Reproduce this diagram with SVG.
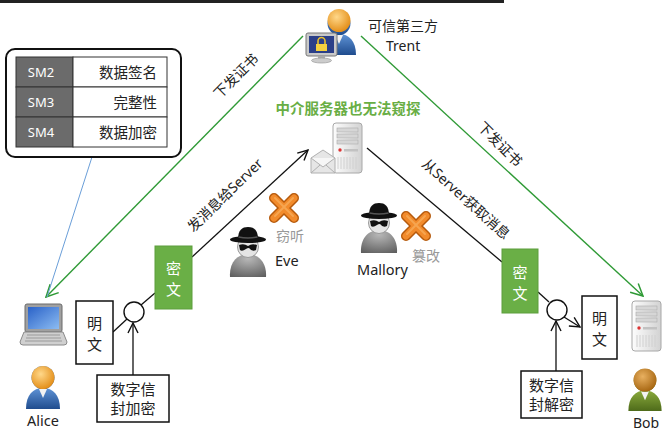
<svg xmlns="http://www.w3.org/2000/svg" width="667" height="433" viewBox="0 0 667 433">
<defs>
<style>
text{font-family:"Noto Sans","Noto Sans CJK SC",sans-serif;fill:#222}
.cn{font-family:"Noto Sans CJK SC","Noto Sans",sans-serif}
.lbl{font-size:14px}
.box{fill:#fff;stroke:#111;stroke-width:1.5}
.gbox{fill:#6aaf46;stroke:#5c9e3c;stroke-width:1}
.gtxt{fill:#fff;font-size:15px}
.ln{stroke:#111;stroke-width:1.3;fill:none}
.gl{stroke:#2f9a36;stroke-width:1.4;fill:none}
.smk{fill:#6b6b6b;stroke:#333;stroke-width:1}
.smv{fill:#fff;stroke:#333;stroke-width:1}
</style>
<marker id="arr" viewBox="0 0 12 12" refX="11" refY="6" markerWidth="12" markerHeight="12" markerUnits="userSpaceOnUse" orient="auto"><path d="M1,1 L11,6 L1,11" fill="none" stroke="#111" stroke-width="1.4"/></marker>
<marker id="garr" viewBox="0 0 14 14" refX="13" refY="7" markerWidth="14" markerHeight="14" markerUnits="userSpaceOnUse" orient="auto"><path d="M1,1 L13,7 L1,13" fill="none" stroke="#2f9a36" stroke-width="1.5"/></marker>
<radialGradient id="headO" cx="0.4" cy="0.35" r="0.7"><stop offset="0" stop-color="#ffd88a"/><stop offset="1" stop-color="#e28a12"/></radialGradient>
<radialGradient id="headB" cx="0.4" cy="0.35" r="0.7"><stop offset="0" stop-color="#e8b060"/><stop offset="1" stop-color="#a4630e"/></radialGradient>
<linearGradient id="bodyBlue" x1="0" y1="0" x2="0" y2="1"><stop offset="0" stop-color="#5f93d6"/><stop offset="1" stop-color="#1f4c8e"/></linearGradient>
<linearGradient id="bodyGreen" x1="0" y1="0" x2="0" y2="1"><stop offset="0" stop-color="#8aaa3c"/><stop offset="1" stop-color="#4e6b1a"/></linearGradient>
<linearGradient id="srv" x1="0" y1="0" x2="1" y2="0"><stop offset="0" stop-color="#fdfdfd"/><stop offset="1" stop-color="#d2d2d2"/></linearGradient>
<linearGradient id="scr" x1="0" y1="0" x2="1" y2="1"><stop offset="0" stop-color="#2a62c8"/><stop offset="1" stop-color="#8cbcf2"/></linearGradient>
<radialGradient id="spyBody" cx="0.5" cy="0.2" r="0.9"><stop offset="0" stop-color="#b8b8b8"/><stop offset="1" stop-color="#5e5e5e"/></radialGradient>

<symbol id="person" viewBox="0 0 36 44" overflow="visible">
<path d="M1,44 C1,30 8,23 18,23 C28,23 35,30 35,44 Z"/>
<path d="M14,24 L18,33 L22,24 Z" fill="#f2f2f2"/>
<circle cx="18" cy="12.5" r="11.5" stroke="none"/>
</symbol>

<symbol id="server" viewBox="0 0 31 52" overflow="visible">
<rect x="1" y="1" width="29" height="50" rx="3" fill="url(#srv)" stroke="#a8a8a8"/>
<rect x="5" y="6" width="21" height="4" fill="#d6d6d6" stroke="#aaa" stroke-width="0.6"/>
<rect x="5" y="12" width="21" height="4" fill="#d6d6d6" stroke="#aaa" stroke-width="0.6"/>
<rect x="5" y="18" width="21" height="4" fill="#d6d6d6" stroke="#aaa" stroke-width="0.6"/>
<circle cx="8" cy="28" r="1.7" fill="#d33"/>
<rect x="12" y="27" width="14" height="2.5" fill="#c2c2c2"/>
<path d="M6,35 V47 M9,35 V47 M12,35 V47 M15,35 V47 M18,35 V47 M21,35 V47 M24,35 V47" stroke="#d0d0d0" stroke-width="1"/>
</symbol>

<symbol id="spy" viewBox="0 0 40 52" overflow="visible">
<path d="M2,52 C1,38 9,29 20,29 C31,29 39,38 38,52 Z" fill="url(#spyBody)"/>
<circle cx="20" cy="22" r="10.5" fill="#e4e4e4" stroke="#9a9a9a"/>
<path d="M11,20 Q16,18 20,21 Q24,18 29,20 L28,25 Q24,27 21,23 Q19,23 18,24 Q14,27 12,25 Z" fill="#111"/>
<ellipse cx="20" cy="14.5" rx="18" ry="3.6" fill="#111"/>
<path d="M10,14.5 C10,5 14,2 20,2 C26,2 30,5 30,14.5 Z" fill="#111"/>
<path d="M10.5,12 Q20,14 29.5,12" stroke="#555" stroke-width="1.5" fill="none"/>
</symbol>

<symbol id="xmark" viewBox="0 0 32 32" overflow="visible">
<path d="M6,6 L26,26 M26,6 L6,26" stroke="#b65a0c" stroke-width="10" stroke-linecap="round"/>
<path d="M6,6 L26,26 M26,6 L6,26" stroke="#f28b2c" stroke-width="7" stroke-linecap="round"/>
<path d="M7,6 L25,24 M25,6 L7,24" stroke="#f8b060" stroke-width="2" stroke-linecap="round" opacity="0.7"/>
</symbol>

<symbol id="laptop" viewBox="0 0 47 44" overflow="visible">
<rect x="5" y="1" width="37" height="28" rx="2" fill="#a0a0a0" stroke="#6a6a6a"/>
<rect x="8" y="4" width="31" height="22" fill="url(#scr)"/>
<path d="M4,29 L43,29 L47,39 Q47,42 44,42 L3,42 Q0,42 0,39 Z" fill="#d0d0d0" stroke="#8a8a8a"/>
<path d="M7,32 H40 M6,35 H41 M5,38 H42" stroke="#9a9a9a" stroke-width="1"/>
</symbol>
</defs>

<rect width="667" height="433" fill="#fff"/>
<rect x="0" y="0" width="504" height="3" fill="#222"/>

<!-- connectors -->
<g id="connectors">
<line class="gl" x1="303" y1="36" x2="46" y2="297" marker-end="url(#garr)"/>
<line class="gl" x1="361" y1="36" x2="643" y2="296" marker-end="url(#garr)"/>
<line x1="92" y1="157" x2="47" y2="297" stroke="#6a9ed8" stroke-width="1"/>
<line class="ln" x1="192" y1="257" x2="308" y2="150" marker-end="url(#arr)"/>
<line class="ln" x1="367" y1="148" x2="502" y2="262"/>
<line class="ln" x1="113" y1="332" x2="127" y2="319"/>
<line class="ln" x1="141" y1="305" x2="155" y2="293"/>
<line class="ln" x1="133" y1="375" x2="133" y2="323" marker-end="url(#arr)"/>
<line class="ln" x1="538" y1="292" x2="549" y2="302"/>
<line class="ln" x1="564" y1="317" x2="580" y2="327" marker-end="url(#arr)"/>
<line class="ln" x1="556" y1="371" x2="556" y2="321" marker-end="url(#arr)"/>
<g class="cn lbl">
<text transform="translate(236,76) rotate(-45)" y="5" text-anchor="middle">下发证书</text>
<text transform="translate(500,144) rotate(45)" y="5" text-anchor="middle">下发证书</text>
<text transform="translate(225,195) rotate(-44)" y="5" text-anchor="middle">发消息给Server</text>
<text transform="translate(466,199) rotate(42)" y="5" text-anchor="middle">从Server获取消息</text>
</g>
</g>

<!-- algorithm table -->
<g id="sm-table">
<rect x="6" y="49" width="175" height="108" rx="9" fill="#fff" stroke="#111" stroke-width="2"/>
<rect class="smk" x="16" y="57" width="57" height="30"/>
<rect class="smv" x="73" y="57" width="94" height="30"/>
<rect class="smk" x="16" y="87" width="57" height="30"/>
<rect class="smv" x="73" y="87" width="94" height="30"/>
<rect class="smk" x="16" y="117" width="57" height="30"/>
<rect class="smv" x="73" y="117" width="94" height="30"/>
<g font-size="13" text-anchor="middle">
<text x="41" y="77" style="fill:#fff">SM2</text>
<text x="41" y="107" style="fill:#fff">SM3</text>
<text x="41" y="137" style="fill:#fff">SM4</text>
</g>
<g class="cn" font-size="14.5" text-anchor="end">
<text x="157" y="78">数据签名</text>
<text x="157" y="108">完整性</text>
<text x="157" y="138">数据加密</text>
</g>
</g>

<!-- trusted third party -->
<g id="trent">
<use href="#person" x="321" y="8" width="36" height="50" fill="url(#bodyBlue)"/>
<circle cx="339" cy="20.5" r="11.5" fill="url(#headO)"/>
<rect x="306" y="33" width="31" height="23" rx="2" fill="#c9c9c9" stroke="#777"/>
<rect x="309" y="36" width="25" height="17" fill="#2b3f88"/>
<path d="M318,44 V41 A3.5,3.5 0 0 1 325,41 V44" fill="none" stroke="#e8c030" stroke-width="1.6"/>
<rect x="316" y="44" width="11" height="7" fill="#f4d03f"/>
<rect x="318" y="56" width="7" height="3" fill="#aaa"/>
<ellipse cx="321.5" cy="60.5" rx="10" ry="2.5" fill="#ccc" stroke="#999" stroke-width="0.7"/>
<text class="cn" x="368" y="31" font-size="14">可信第三方</text>
<text x="386" y="51" font-size="14">Trent</text>
</g>

<!-- relay server -->
<g id="relay">
<text class="cn" x="348" y="114" font-size="14.5" font-weight="bold" text-anchor="middle" style="fill:#69ae45">中介服务器也无法窥探</text>
<use href="#server" x="332" y="122" width="31" height="52"/>
<path d="M311,158 L323,150 L335,158 V173 H311 Z" fill="#e6e6e6" stroke="#b0b0b0"/>
<path d="M311,158 L323,167 L335,158" fill="#f6f6f6" stroke="#b0b0b0"/>
<path d="M311,173 L320,165 M335,173 L326,165" stroke="#b0b0b0" fill="none"/>
</g>

<!-- eavesdropper -->
<g id="eve">
<use href="#xmark" x="268" y="192" width="32" height="32"/>
<use href="#spy" x="228" y="225" width="40" height="52"/>
<text class="cn" x="276" y="241" font-size="14" style="fill:#999">窃听</text>
<text x="275" y="266" font-size="14.5">Eve</text>
</g>

<!-- tamperer -->
<g id="mallory">
<use href="#spy" x="359" y="201" width="40" height="52"/>
<use href="#xmark" x="400" y="210" width="32" height="32"/>
<text class="cn" x="412" y="261" font-size="14" style="fill:#999">篡改</text>
<text x="357" y="275" font-size="14.5">Mallory</text>
</g>

<!-- sender -->
<g id="alice">
<use href="#laptop" x="20" y="303" width="47" height="44"/>
<use href="#person" x="25" y="365" width="36" height="44" fill="url(#bodyBlue)"/>
<circle cx="43" cy="377.5" r="11.5" fill="url(#headO)"/>
<text x="43" y="426" font-size="14.5" text-anchor="middle">Alice</text>
</g>

<g id="alice-plain">
<rect class="box" x="76" y="301" width="37" height="63"/>
<text class="cn" x="94.5" y="329" font-size="15" text-anchor="middle">明</text>
<text class="cn" x="94.5" y="350" font-size="15" text-anchor="middle">文</text>
</g>

<g id="alice-op">
<circle cx="134" cy="312" r="10" fill="#fff" stroke="#111" stroke-width="1.4"/>
</g>

<g id="alice-cipher">
<rect class="gbox" x="155" y="246" width="37" height="63"/>
<text class="cn gtxt" x="173.5" y="274" text-anchor="middle" style="fill:#fff">密</text>
<text class="cn gtxt" x="173.5" y="295" text-anchor="middle" style="fill:#fff">文</text>
</g>

<g id="envelope-encrypt">
<rect class="box" x="97" y="375" width="72" height="47"/>
<text class="cn" x="133" y="395" font-size="15" text-anchor="middle">数字信</text>
<text class="cn" x="133" y="414" font-size="15" text-anchor="middle">封加密</text>
</g>

<!-- receiver -->
<g id="bob-cipher">
<rect class="gbox" x="502" y="249" width="36" height="64"/>
<text class="cn gtxt" x="520" y="278" text-anchor="middle" style="fill:#fff">密</text>
<text class="cn gtxt" x="520" y="299" text-anchor="middle" style="fill:#fff">文</text>
</g>

<g id="bob-op">
<circle cx="557" cy="310" r="10" fill="#fff" stroke="#111" stroke-width="1.4"/>
</g>

<g id="bob-plain">
<rect class="box" x="582" y="296" width="35" height="63"/>
<text class="cn" x="599.5" y="324" font-size="15" text-anchor="middle">明</text>
<text class="cn" x="599.5" y="345" font-size="15" text-anchor="middle">文</text>
</g>

<g id="envelope-decrypt">
<rect class="box" x="521" y="371" width="61" height="47"/>
<text class="cn" x="551.5" y="391" font-size="15" text-anchor="middle">数字信</text>
<text class="cn" x="551.5" y="410" font-size="15" text-anchor="middle">封解密</text>
</g>

<g id="bob">
<use href="#server" x="631" y="300" width="31" height="52"/>
<use href="#person" x="627" y="368" width="36" height="43" fill="url(#bodyGreen)"/>
<circle cx="645" cy="380" r="11.5" fill="url(#headB)"/>
<text x="646" y="428" font-size="14" text-anchor="middle">Bob</text>
</g>
</svg>
